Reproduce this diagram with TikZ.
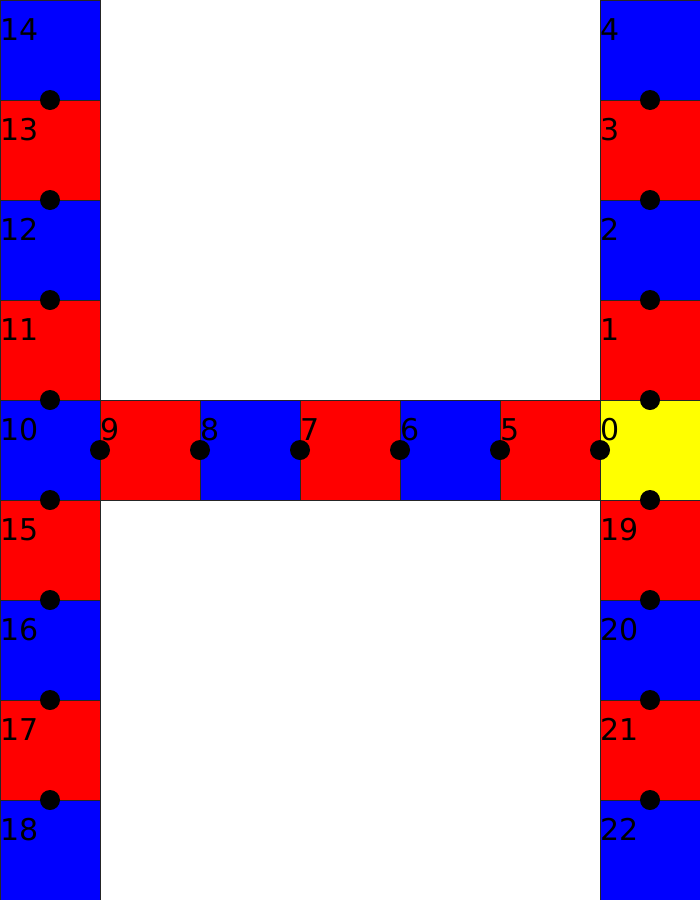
\documentclass[tikz,border=0pt]{standalone}
\usepackage{fontspec}
\setmainfont{DejaVu Sans}
\definecolor{cblue}{RGB}{0,0,255}
\definecolor{cred}{RGB}{255,0,0}
\definecolor{cyellow}{RGB}{255,255,0}
\begin{document}
\begin{tikzpicture}[x=1pt,y=-1pt,
  cell/.style={draw=black!85,line width=0.8pt,minimum size=100pt,inner sep=0pt,outer sep=0pt,anchor=north west},
  dot/.style={circle,fill=black,minimum size=20pt,inner sep=0pt},
  lbl/.style={anchor=base west,inner sep=0pt,font=\fontsize{30}{36}\selectfont}]
\useasboundingbox (0,0) rectangle (700,900);
% cells: name/x/y/color/label
\foreach \n/\x/\y/\c in {
  c14/0/0/cblue, c13/0/100/cred, c12/0/200/cblue, c11/0/300/cred, c10/0/400/cblue,
  c15/0/500/cred, c16/0/600/cblue, c17/0/700/cred, c18/0/800/cblue,
  c4/600/0/cblue, c3/600/100/cred, c2/600/200/cblue, c1/600/300/cred, c0/600/400/cyellow,
  c19/600/500/cred, c20/600/600/cblue, c21/600/700/cred, c22/600/800/cblue,
  c9/100/400/cred, c8/200/400/cblue, c7/300/400/cred, c6/400/400/cblue, c5/500/400/cred}
  \node[cell,fill=\c] (\n) at (\x,\y) {};
% dots
\foreach \n/\x/\y in {
  d1/50/100, d2/50/200, d3/50/300, d4/50/400, d5/50/500, d6/50/600, d7/50/700, d8/50/800,
  d9/650/100, d10/650/200, d11/650/300, d12/650/400, d13/650/500, d14/650/600, d15/650/700, d16/650/800,
  d17/100/450, d18/200/450, d19/300/450, d20/400/450, d21/500/450, d22/600/450}
  \node[dot] (\n) at (\x,\y) {};
% labels
\foreach \t/\x/\y in {
  14/0/0, 13/0/100, 12/0/200, 11/0/300, 10/0/400, 15/0/500, 16/0/600, 17/0/700, 18/0/800,
  4/600/0, 3/600/100, 2/600/200, 1/600/300, 0/600/400, 19/600/500, 20/600/600, 21/600/700, 22/600/800,
  9/100/400, 8/200/400, 7/300/400, 6/400/400, 5/500/400}
  \node[lbl] (l\t) at (\x,\y+40) {\t};
\end{tikzpicture}
\end{document}
